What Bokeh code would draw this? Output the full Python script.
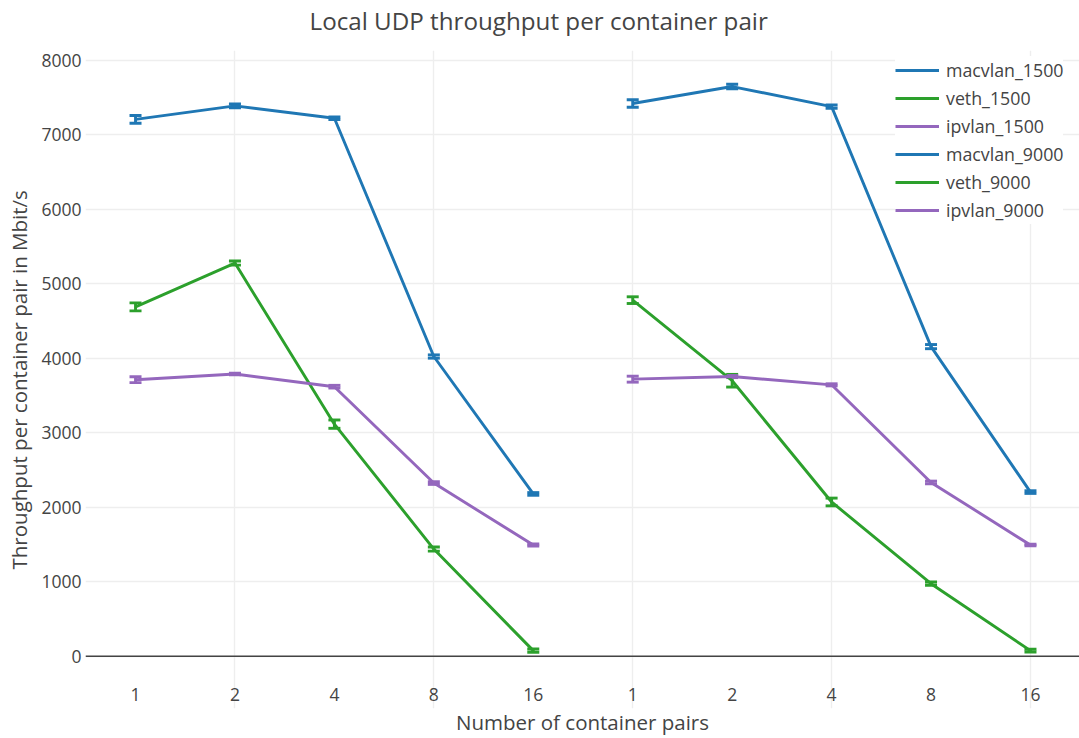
from bokeh.plotting import figure
from bokeh.models import (ColumnDataSource, Whisker, TeeHead, FixedTicker, Span,
                          Legend, LegendItem, Range1d, Title, LinearAxis)
from bokeh.embed import file_html
from bokeh.resources import INLINE

# ---- data ----
tick_labels = ["1", "2", "4", "8", "16", "1", "2", "4", "8", "16"]
x_1500 = [0, 1, 2, 3, 4]
x_9000 = [5, 6, 7, 8, 9]

macvlan_1500 = [7210, 7390, 7225, 4025, 2180]
macvlan_1500_err = [52, 25, 18, 22, 18]
veth_1500 = [4692, 5280, 3117, 1440, 76]
veth_1500_err = [54, 28, 56, 28, 22]
ipvlan_1500 = [3714, 3790, 3620, 2326, 1494]
ipvlan_1500_err = [40, 10, 18, 18, 14]

macvlan_9000 = [7423, 7650, 7380, 4158, 2205]
macvlan_9000_err = [50, 30, 22, 28, 18]
veth_9000 = [4782, 3700, 2072, 975, 76]
veth_9000_err = [45, 85, 52, 22, 18]
ipvlan_9000 = [3721, 3756, 3645, 2334, 1494]
ipvlan_9000_err = [40, 14, 14, 18, 10]

BLUE = "#1f77b4"
GREEN = "#2ca02c"
PURPLE = "#9467bd"
FONT = "Open Sans"
TXT = "#444444"

series = [
    ("macvlan_1500", x_1500, macvlan_1500, macvlan_1500_err, BLUE),
    ("veth_1500", x_1500, veth_1500, veth_1500_err, GREEN),
    ("ipvlan_1500", x_1500, ipvlan_1500, ipvlan_1500_err, PURPLE),
    ("macvlan_9000", x_9000, macvlan_9000, macvlan_9000_err, BLUE),
    ("veth_9000", x_9000, veth_9000, veth_9000_err, GREEN),
    ("ipvlan_9000", x_9000, ipvlan_9000, ipvlan_9000_err, PURPLE),
]

p = figure(width=1079, height=738, output_backend="svg", toolbar_location=None,
           x_range=Range1d(-0.503, 9.493), y_range=Range1d(-701, 8134),
           min_border_left=85, min_border_right=0, min_border_top=50,
           min_border_bottom=29, title=None)
p.outline_line_color = None
p.background_fill_color = "white"
p.border_fill_color = "white"

xax = p.xaxis[0]
yax = p.yaxis[0]

# axes
xax.ticker = FixedTicker(ticks=list(range(10)))
xax.major_label_overrides = {i: t for i, t in enumerate(tick_labels)}
yax.ticker = FixedTicker(ticks=[0, 1000, 2000, 3000, 4000, 5000, 6000, 7000, 8000])
for ax in (xax, yax):
    ax.axis_line_color = None
    ax.major_tick_line_color = None
    ax.minor_tick_line_color = None
    ax.major_tick_out = 0
    ax.major_tick_in = 0
    ax.minor_tick_out = 0
    ax.minor_tick_in = 0
    ax.major_label_text_font = FONT
    ax.major_label_text_font_size = "17.5px"
    ax.major_label_text_color = TXT
    ax.axis_label_text_font = FONT
    ax.axis_label_text_font_size = "20.5px"
    ax.axis_label_text_font_style = "normal"
    ax.axis_label_text_color = TXT
xax.axis_label = "Number of container pairs"
xax.major_label_standoff = -21
xax.axis_label_standoff = 4
yax.major_label_standoff = 4

# invisible spacer between plot area and title: one hidden tick, no visible label
spacer = LinearAxis(ticker=FixedTicker(ticks=[4.5]), axis_line_color=None,
                    major_tick_line_color=None, minor_tick_line_color=None,
                    major_tick_out=14, major_tick_in=0, minor_tick_out=0, minor_tick_in=0,
                    major_label_standoff=0, major_label_text_color=None,
                    major_label_text_font_size="1px")
p.add_layout(spacer, "above")

title = Title(text="Local UDP throughput per container pair", text_font=FONT,
              text_font_size="24.2px", text_font_style="normal", text_color=TXT,
              align="left", offset=224, vertical_align="bottom", standoff=0)
p.add_layout(title, "above")

ytitle = Title(text="Throughput per container pair in Mbit/s", text_font=FONT,
               text_font_size="20.5px", text_font_style="normal", text_color=TXT,
               align="left", offset=139, vertical_align="top", standoff=8)
p.add_layout(ytitle, "left")

# grid
p.xgrid.ticker = FixedTicker(ticks=[1, 3, 5, 7, 9])
p.xgrid.grid_line_color = "#eeeeee"
p.xgrid.grid_line_width = 1.4
p.ygrid.grid_line_color = "#eeeeee"
p.ygrid.grid_line_width = 1.4
p.add_layout(Span(location=0, dimension="width", line_color=TXT, line_width=1.6))

items = []
for name, xs, ys, errs, color in series:
    src = ColumnDataSource(dict(x=xs, y=ys,
                                lo=[v - e for v, e in zip(ys, errs)],
                                hi=[v + e for v, e in zip(ys, errs)]))
    r = p.line("x", "y", source=src, line_color=color, line_width=2.9)
    w = Whisker(source=src, base="x", lower="lo", upper="hi", dimension="height",
                line_color=color, line_width=2.9,
                upper_head=TeeHead(size=12, line_color=color, line_width=2.9),
                lower_head=TeeHead(size=12, line_color=color, line_width=2.9))
    p.add_layout(w)
    items.append(LegendItem(label=name, renderers=[r]))

legend = Legend(items=items, location=(810, 484))
legend.label_text_font = FONT
legend.label_text_font_size = "17.8px"
legend.label_text_color = TXT
legend.glyph_width = 44
legend.glyph_height = 28
legend.label_height = 28
legend.label_standoff = 7
legend.spacing = 0
legend.padding = 8
legend.margin = 0
legend.background_fill_color = "white"
legend.background_fill_alpha = 1.0
legend.border_line_color = None
p.add_layout(legend)

open("out.html", "w").write(file_html(p, INLINE))
